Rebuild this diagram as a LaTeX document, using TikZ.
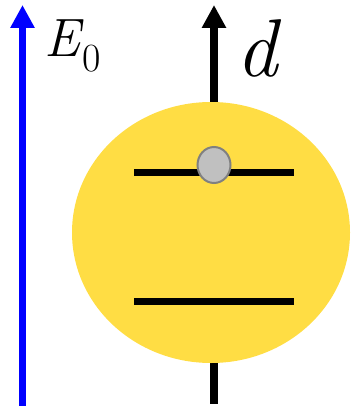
\documentclass[tikz,border=0pt]{standalone}
\usepackage{fontspec}
\usetikzlibrary{arrows.meta,shapes.geometric}
\definecolor{atomyellow}{RGB}{255,221,68}
\definecolor{dotgray}{RGB}{192,192,192}
\definecolor{dotedge}{RGB}{128,128,128}
\definecolor{fieldblue}{RGB}{0,0,255}
\tikzset{
  lbl/.style={inner sep=0pt, anchor=base west},
  bar/.style={line width=7pt, black},
  bigarrow/.style={-{Triangle[length=23pt,width=23pt]}}
}
\begin{document}
\begin{tikzpicture}[x=1pt,y=-1pt]
\useasboundingbox (0,0) rectangle (350,406);
% coordinates
\coordinate (eb) at (22.5,406);
\coordinate (et) at (22.5,5);
\coordinate (db) at (214,120);
\coordinate (dt) at (214,5);
\coordinate (tb) at (214,360);
\coordinate (te) at (214,404);
\coordinate (u1) at (134,172);
\coordinate (u2) at (294,172);
\coordinate (l1) at (134,301);
\coordinate (l2) at (294,301);
% field arrow
\draw[bigarrow, line width=7pt, fieldblue] (eb) -- (et);
% dipole arrow and tail
\draw[bigarrow, line width=8pt, black] (db) -- (dt);
\draw[line width=8pt, black] (tb) -- (te);
% atom
\node (atom) [ellipse, fill=atomyellow, minimum width=278pt, minimum height=261pt, inner sep=0pt] at (211,232.5) {};
\draw[bar] (u1) -- (u2);
\draw[bar] (l1) -- (l2);
\node (dot) [ellipse, fill=dotgray, draw=dotedge, line width=2pt, minimum width=33pt, minimum height=36pt, inner sep=0pt] at (214,165) {};
% labels
\node (E) [lbl] at (44,57) {\fontsize{54}{60}\selectfont\itshape E};
\node (Esub) [lbl] at (82,72) {\fontsize{40}{44}\selectfont 0};
\node (d) [lbl] at (236,77) {\fontsize{82}{88}\selectfont\itshape d};
\end{tikzpicture}
\end{document}
